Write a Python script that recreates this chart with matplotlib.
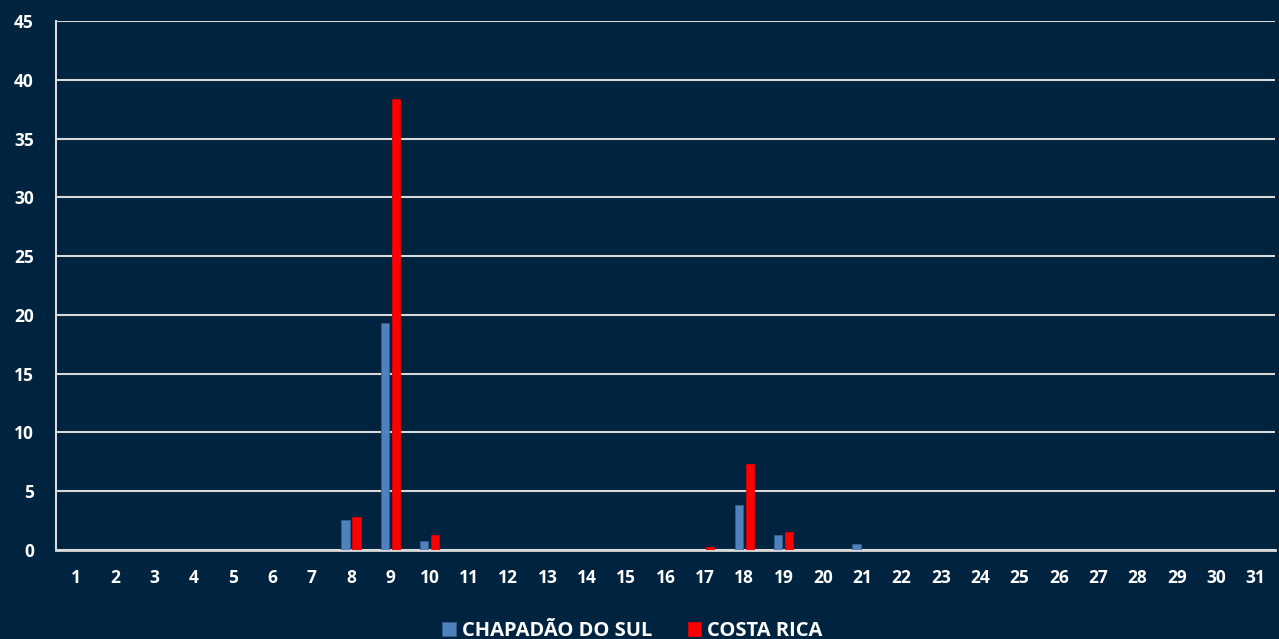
import matplotlib.pyplot as plt
import numpy as np

days = list(range(1, 32))
chapadao = [0, 0, 0, 0, 0, 0, 0, 2.55, 19.3, 0.75, 0, 0, 0, 0, 0, 0, 0, 3.8, 1.25, 0, 0.48,
            0, 0, 0, 0, 0, 0, 0, 0, 0, 0]
costa_rica = [0, 0, 0, 0, 0, 0, 0, 2.8, 38.35, 1.25, 0, 0, 0, 0, 0, 0, 0.25, 7.3, 1.55, 0, 0,
              0, 0, 0, 0, 0, 0, 0, 0, 0, 0]

BG = "#00233f"
plt.rcParams["font.family"] = ["Open Sans", "DejaVu Sans"]

fig = plt.figure(figsize=(12.79, 6.39), dpi=100, facecolor=BG)
ax = fig.add_axes([56 / 1279, 89 / 639, 1219 / 1279, 529 / 639], facecolor=BG)

x = np.array(days)
w = 0.21
gap = 0.07
ax.bar(x - (w + gap) / 2, chapadao, width=w, color="#4f81bd", edgecolor="#385d8a",
       linewidth=0.6, label="CHAPADÃO DO SUL", zorder=3)
ax.bar(x + (w + gap) / 2, costa_rica, width=w, color="#ff0000", edgecolor="#e00000",
       linewidth=0.6, label="COSTA RICA", zorder=3)

ax.set_xlim(0.5, 31.5)
ax.set_ylim(0, 45)
ax.set_yticks(range(0, 46, 5))
ax.set_xticks(days)
ax.yaxis.grid(True, color="#d9d9d9", linewidth=1.5, zorder=0)
ax.set_axisbelow(True)
for s in ["top", "right"]:
    ax.spines[s].set_visible(False)
ax.spines["left"].set_color("#d9d9d9")
ax.spines["bottom"].set_color("#d9d9d9")
ax.spines["left"].set_linewidth(1.5)
ax.spines["bottom"].set_linewidth(2)
ax.tick_params(axis="x", length=0, colors="white", labelsize=12.5, pad=14)
ax.tick_params(axis="y", length=0, colors="white", labelsize=12.5, pad=16)
for lbl in ax.get_xticklabels() + ax.get_yticklabels():
    lbl.set_fontweight("bold")

leg = ax.legend(loc="upper center", bbox_to_anchor=(0.473, -0.1), ncol=2, frameon=False,
                handlelength=0.65, handleheight=0.65, columnspacing=1.8, handletextpad=0.3,
                prop={"weight": "bold", "size": 14.5})
for t in leg.get_texts():
    t.set_color("white")

fig.savefig("out.png", dpi=100, facecolor=BG)
